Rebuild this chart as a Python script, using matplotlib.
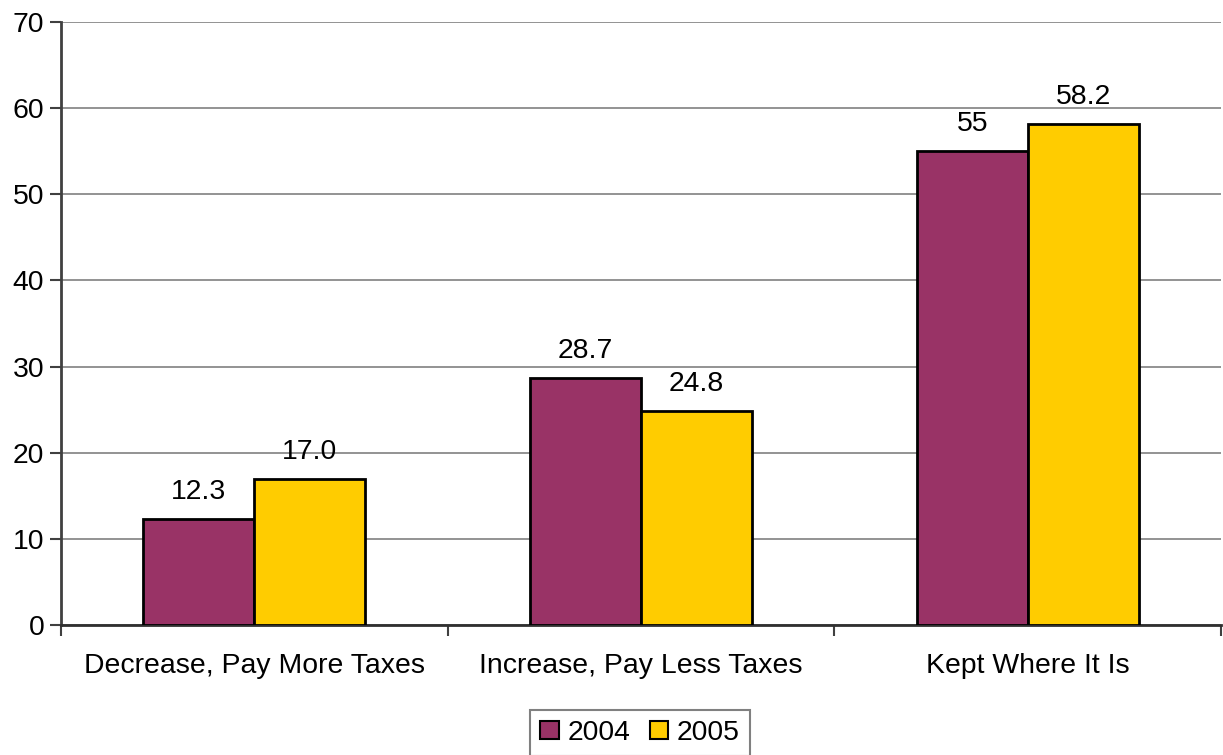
import matplotlib.pyplot as plt
import numpy as np

categories = ['Decrease, Pay More Taxes', 'Increase, Pay Less Taxes', 'Kept Where It Is']
values_2004 = [12.3, 28.7, 55]
values_2005 = [17.0, 24.8, 58.2]
labels_2004 = ['12.3', '28.7', '55']
labels_2005 = ['17.0', '24.8', '58.2']
series_names = ['2004', '2005']


def main():
    plt.rcParams['font.family'] = ['Liberation Sans', 'DejaVu Sans']
    fs = 20.4

    fig = plt.figure(figsize=(12.23, 7.55), dpi=100)
    ax = fig.add_axes([61 / 1223, 1 - 625 / 755, 1160 / 1223, 603 / 755])

    x = np.arange(len(categories))
    w = 0.287
    b1 = ax.bar(x - w / 2, values_2004, w, color='#993366', edgecolor='black',
                linewidth=2, label=series_names[0], zorder=3)
    b2 = ax.bar(x + w / 2, values_2005, w, color='#FFCC00', edgecolor='black',
                linewidth=2, label=series_names[1], zorder=3)

    ax.bar_label(b1, labels=labels_2004, padding=10, fontsize=fs)
    ax.bar_label(b2, labels=labels_2005, padding=10, fontsize=fs)

    ax.set_xlim(-0.5, len(categories) - 0.5)
    ax.set_ylim(0, 70)
    ax.set_yticks(range(0, 71, 10))
    ax.yaxis.grid(True, color='#808080', linewidth=1.2, zorder=0)
    ax.set_axisbelow(True)

    ax.set_xticks(x)
    ax.set_xticklabels(categories, fontsize=fs)
    ax.set_xticks(np.arange(len(categories) + 1) - 0.5, minor=True)
    ax.tick_params(axis='x', which='major', length=0, pad=20)
    ax.tick_params(axis='x', which='minor', length=8, width=1.5, color='#404040')
    ax.tick_params(axis='y', length=8, width=1.5, color='#404040', labelsize=fs, pad=4)

    for side in ['top', 'right']:
        ax.spines[side].set_visible(False)
    ax.spines['left'].set_color('#404040')
    ax.spines['left'].set_linewidth(2)
    ax.spines['bottom'].set_color('#303030')
    ax.spines['bottom'].set_linewidth(2)

    leg = fig.legend(loc='upper center', bbox_to_anchor=(640 / 1223, 1 - 710 / 755),
                     ncol=2, fontsize=fs, frameon=True, fancybox=False,
                     handlelength=0.65, handleheight=0.65, handletextpad=0.3,
                     columnspacing=0.7, borderpad=0.35, borderaxespad=0)
    leg.get_frame().set_edgecolor('#606060')
    leg.get_frame().set_linewidth(1.5)
    for h in leg.legend_handles:
        h.set_linewidth(1.5)

    fig.savefig('out.png', dpi=100)


if __name__ == "__main__":
    main()
